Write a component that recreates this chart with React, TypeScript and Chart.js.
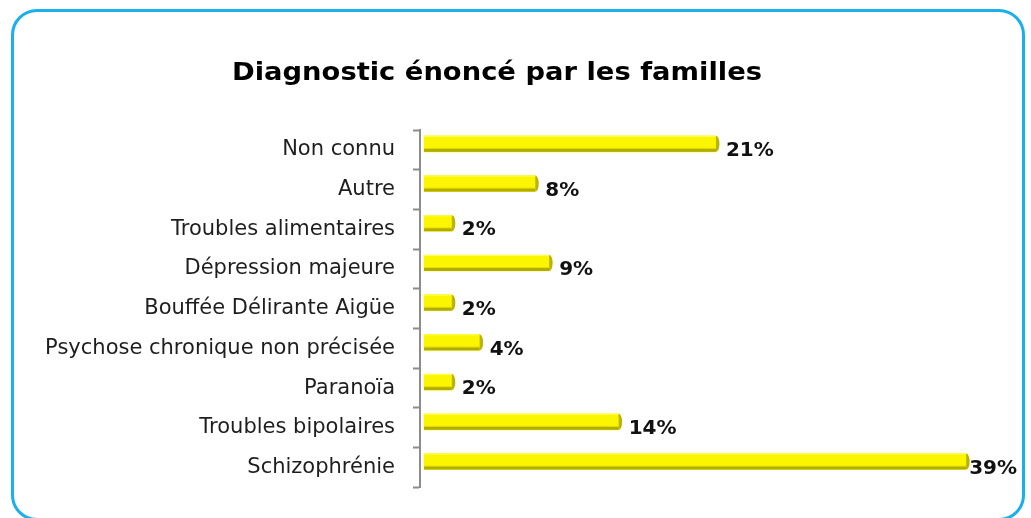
import React, { useEffect, useRef } from "react";
import { Chart, registerables } from "chart.js";

Chart.register(...registerables);

const categories = [
  "Non connu",
  "Autre",
  "Troubles alimentaires",
  "Dépression majeure",
  "Bouffée Délirante Aigüe",
  "Psychose chronique non précisée",
  "Paranoïa",
  "Troubles bipolaires",
  "Schizophrénie",
];
const values = [21, 8, 2, 9, 2, 4, 2, 14, 39];
const titleText = "Diagnostic énoncé par les familles";

const FONT = "'DejaVu Sans', sans-serif";
const BAR_SHIFT = -6;

const barShift = {
  id: "barShift",
  beforeDatasetsDraw(chart: any) {
    chart.ctx.save();
    chart.ctx.translate(0, BAR_SHIFT);
  },
  afterDatasetsDraw(chart: any) {
    const ctx = chart.ctx;
    const meta = chart.getDatasetMeta(0);
    meta.data.forEach((bar: any) => {
      const { x, y, base, height } = bar.getProps(["x", "y", "base", "height"], true);
      const top = y - height / 2;
      const bot = y + height / 2;
      ctx.fillStyle = "#E6E000";
      ctx.fillRect(base, bot - 4, x - base, 1);
      ctx.fillStyle = "#B3AC00";
      ctx.fillRect(base, bot - 3, x - base, 3);
      ctx.fillStyle = "#FFFF55";
      ctx.fillRect(base, top, x - base, 1);
      ctx.fillStyle = "#BAB300";
      ctx.beginPath();
      ctx.ellipse(x, y, 3.5, height / 2, 0, -Math.PI / 2, Math.PI / 2);
      ctx.fill();
    });
    ctx.restore();

    // value labels
    ctx.save();
    ctx.fillStyle = "#111";
    ctx.font = `bold 20px ${FONT}`;
    ctx.textAlign = "left";
    ctx.textBaseline = "middle";
    meta.data.forEach((bar: any, i: number) => {
      const { x, y } = bar.getProps(["x", "y"], true);
      const txt = values[i] + "%";
      const w = ctx.measureText(txt).width;
      let tx = x + 10;
      if (tx + w > chart.width - 14) tx = chart.width - 14 - w;
      ctx.fillText(txt, tx, y + 1);
    });
    ctx.restore();

    // title
    ctx.save();
    ctx.fillStyle = "#000";
    ctx.font = `bold 25px ${FONT}`;
    ctx.textBaseline = "alphabetic";
    ctx.textAlign = "center";
    const tw = ctx.measureText(titleText).width;
    const sx = 530 / tw;
    ctx.translate(497, 80);
    ctx.scale(sx, 1);
    ctx.fillText(titleText, 0, 0);
    ctx.restore();
  },
};

export default function App() {
  const ref = useRef<HTMLCanvasElement>(null);
  useEffect(() => {
    document.body.style.margin = "0";
    const chart = new Chart(ref.current!, {
      type: "bar",
      data: {
        labels: categories,
        datasets: [
          {
            data: values,
            backgroundColor: "#FBF600",
            borderWidth: 0,
            barThickness: 16,
          },
        ],
      },
      plugins: [barShift],
      options: {
        indexAxis: "y",
        animation: false,
        responsive: false,
        layout: { padding: { top: 130, bottom: 29, left: 12, right: 49 } },
        plugins: {
          legend: { display: false },
          tooltip: { enabled: false },
          title: { display: false },
        },
        scales: {
          x: { display: false, min: -0.29, max: 40.14 },
          y: {
            afterFit(scale: any) {
              scale.width = 408;
            },
            border: { display: true, color: "#8C8C8C", width: 2 },
            grid: {
              drawOnChartArea: false,
              drawTicks: true,
              tickLength: 7,
              tickWidth: 2,
              color: "#8C8C8C",
            },
            ticks: {
              color: "#1E1E1E",
              padding: 18,
              font: { family: FONT, size: 21 },
            },
          },
        },
      },
    });
    return () => chart.destroy();
  }, []);
  return (
    <div style={{ position: "relative", width: 1031, height: 518, overflow: "hidden", background: "#fff" }}>
      <div
        style={{
          position: "absolute",
          left: 11,
          top: 9,
          width: 1014,
          height: 512,
          boxSizing: "border-box",
          border: "3px solid #1BB0EC",
          borderRadius: 26,
        }}
      />
      <canvas ref={ref} width={1031} height={518} style={{ position: "absolute", left: 0, top: 0 }} />
    </div>
  );
}
